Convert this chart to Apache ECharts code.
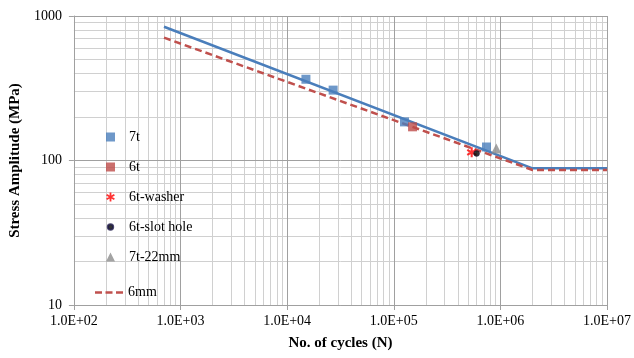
<!DOCTYPE html>
<html><head><meta charset="utf-8">
<script src="https://cdn.jsdelivr.net/npm/echarts@6/dist/echarts.min.js"></script>
<style>html,body{margin:0;padding:0;background:#fff}#c{width:634px;height:358px}</style>
</head><body><div id="c"></div>
<script>
// ---- data ----
const cycles7t = [15000, 27000, 126000, 741000];
const stress7t = [365, 307, 185, 124];
const cycles6t = [150000];
const stress6t = [171];
const cyclesWasher = [538000];
const stressWasher = [114];
const cyclesSlot = [598000];
const stressSlot = [112];
const cycles7t22 = [916000];
const stress7t22 = [121];
const cyclesFit7t = [700, 2000000, 10000000];
const stressFit7t = [843, 88.3, 88.3];
const cycles6mm = [700, 2000000, 10000000];
const stress6mm = [708, 86, 86];
const xDecades = [100, 1000, 10000, 100000, 1000000, 10000000];
const yDecades = [10, 100, 1000];

function pairs(xs, ys){ return xs.map((x,i)=>[x, ys[i]]); }
function minors(decs){ const out=[]; for(let i=0;i<decs.length-1;i++){ for(let m=2;m<=9;m++) out.push(decs[i]*m); } return out; }

const asterisk = 'path://M-1,-5L1,-5L1,5L-1,5Z M3.83,-3.366L4.83,-1.634L-3.83,3.366L-4.83,1.634Z M4.83,1.634L3.83,3.366L-4.83,-1.634L-3.83,-3.366Z';
const dashIcon = 'path://M0,0h7v2.5h-7Z M10.5,0h7v2.5h-7Z M21,0h7v2.5h-7Z';
const smallDot = 'path://M-4.5,-4.5M4.5,4.5M2.7,0A2.7,2.7,0,1,1,-2.7,0A2.7,2.7,0,1,1,2.7,0Z';

const serif = '"Liberation Serif","Times New Roman",serif';
const minorColor = '#d0d0d0';
const majorColor = '#a0a0a0';

const gridMinorData = minors(xDecades).map(v=>({xAxis:v})).concat(minors(yDecades).map(v=>({yAxis:v})));
const gridMajorData = xDecades.map(v=>({xAxis:v})).concat(yDecades.map(v=>({yAxis:v})));

const chart = echarts.init(document.getElementById('c'));
chart.setOption({
  animation:false,
  backgroundColor:'#fff',
  grid:{left:68, right:25, top:16, bottom:53},
  xAxis:{
    type:'log', logBase:10, min:100, max:10000000,
    name:'No. of cycles (N)', nameLocation:'middle', nameGap:31,
    nameTextStyle:{fontFamily:serif, fontWeight:'bold', fontSize:15, color:'#000'},
    axisLine:{lineStyle:{color:'#a0a0a0'}},
    axisTick:{show:true, length:5, lineStyle:{color:'#a0a0a0'}},
    splitLine:{show:false},
    axisLabel:{fontFamily:serif, fontSize:14, color:'#000', margin:9,
      formatter:function(v){ const e=Math.round(Math.log10(v)); return '1.0E+' + (e<10?'0':'') + e; }}
  },
  yAxis:{
    type:'log', logBase:10, min:10, max:1000,
    name:'Stress Amplitude (MPa)', nameLocation:'middle', nameGap:44,
    nameTextStyle:{fontFamily:serif, fontWeight:'bold', fontSize:15, color:'#000'},
    axisLine:{show:true, lineStyle:{color:'#a0a0a0'}},
    axisTick:{show:true, length:5, lineStyle:{color:'#a0a0a0'}},
    splitLine:{show:false},
    axisLabel:{fontFamily:serif, fontSize:14, color:'#000', margin:12,
      formatter:function(v){ return String(Math.round(v)); }}
  },
  legend:[{
    orient:'vertical', left:105, top:130, padding:0, itemWidth:9, itemHeight:9, itemGap:16,
    textStyle:{fontFamily:serif, fontSize:14, color:'#000', padding:[0,0,0,9]},
    data:['7t','6t','6t-washer',{name:'6t-slot hole', icon:smallDot},'7t-22mm']
  },{
    orient:'vertical', left:95, top:285.5, padding:0, itemWidth:28, itemHeight:3,
    textStyle:{fontFamily:serif, fontSize:14, color:'#000'},
    data:[{name:'6mm', icon:dashIcon}]
  }],
  series:[
    {name:'gridMinor', type:'line', data:[], silent:true,
     markLine:{silent:true, symbol:['none','none'], label:{show:false}, z:0,
       lineStyle:{color:minorColor, type:'solid', width:1}, data:gridMinorData}},
    {name:'gridMajor', type:'line', data:[], silent:true,
     markLine:{silent:true, symbol:['none','none'], label:{show:false}, z:0,
       lineStyle:{color:majorColor, type:'solid', width:1}, data:gridMajorData}},
    {name:'7t fit', type:'line', data:pairs(cyclesFit7t, stressFit7t), showSymbol:false, symbol:'none',
     lineStyle:{color:'#4A7EBB', width:2.5}, z:3},
    {name:'6mm', type:'line', data:pairs(cycles6mm, stress6mm), showSymbol:false, symbol:'none',
     itemStyle:{color:'#C0504D'},
     lineStyle:{color:'#C0504D', width:2.5, type:[7,4]}, z:3},
    {name:'7t', type:'scatter', data:pairs(cycles7t, stress7t), symbol:'rect', symbolSize:9,
     itemStyle:{color:'#4A7EBB'}, z:4},
    {name:'6t', type:'scatter', data:pairs(cycles6t, stress6t), symbol:'rect', symbolSize:9,
     itemStyle:{color:'#BE4B48'}, z:4},
    {name:'6t-washer', type:'scatter', data:pairs(cyclesWasher, stressWasher), symbol:asterisk, symbolSize:10,
     itemStyle:{color:'#FF0000'}, z:5},
    {name:'6t-slot hole', type:'scatter', data:pairs(cyclesSlot, stressSlot), symbol:'circle', symbolSize:6,
     itemStyle:{color:'#000000', borderColor:'#1F1A4A', borderWidth:0.5}, z:6},
    {name:'7t-22mm', type:'scatter', data:pairs(cycles7t22, stress7t22), symbol:'triangle', symbolSize:10,
     itemStyle:{color:'#8C8C8C'}, z:4}
  ]
});
</script></body></html>
